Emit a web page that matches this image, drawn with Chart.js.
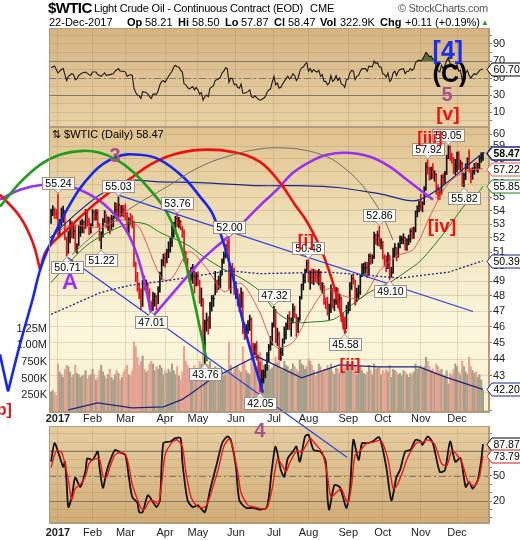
<!DOCTYPE html>
<html>
<head>
<meta charset="utf-8">
<script src="https://cdn.jsdelivr.net/npm/chart.js@4.4.0/dist/chart.umd.min.js"></script>
<style>
body { margin: 0; background: #fff; }
#wrap { position: relative; width: 520px; height: 540px; overflow: hidden; font-family: "Liberation Sans", Arial, sans-serif; }
canvas { position: absolute; left: 0; top: 0; }
.t { position: absolute; white-space: nowrap; color: #000; font-size: 11px; top: 16px; }
.b { font-weight: bold; }
</style>
</head>
<body>
<div id="wrap">
<canvas id="rsi" width="520" height="540"></canvas>
<canvas id="stoch" width="520" height="540"></canvas>
<canvas id="price" width="520" height="540"></canvas>
<div class="t b" style="left:48px;top:-1px;font-size:15px;letter-spacing:-0.6px">$WTIC</div>
<div class="t" style="left:94px;top:2px;letter-spacing:-0.2px">Light Crude Oil - Continuous Contract (EOD)</div>
<div class="t" style="left:310px;top:2px">CME</div>
<div class="t" style="left:398px;top:2px;color:#555;letter-spacing:-0.3px">© StockCharts.com</div>
<div class="t" style="left:49px">22-Dec-2017</div>
<div class="t b" style="left:127px">Op</div><div class="t" style="left:145px">58.21</div>
<div class="t b" style="left:178px">Hi</div><div class="t" style="left:192px">58.50</div>
<div class="t b" style="left:225px">Lo</div><div class="t" style="left:241px">57.87</div>
<div class="t b" style="left:274px">Cl</div><div class="t" style="left:288px">58.47</div>
<div class="t b" style="left:320px">Vol</div><div class="t" style="left:340px">322.9K</div>
<div class="t b" style="left:380px">Chg</div><div class="t" style="left:405px">+0.11 (+0.19%)</div>
<div class="t" style="left:481px;top:18px;font-size:8px;color:#2a9a2a">&#9650;</div>
<div class="t" style="left:52px;top:128px">&#8645; $WTIC (Daily) 58.47</div>
</div>
<script>
// month ticks (bar index of first trading day)
const monthLabels = ['2017', 'Feb', 'Mar', 'Apr', 'May', 'Jun', 'Jul', 'Aug', 'Sep', 'Oct', 'Nov', 'Dec'];
const monthStarts = [4, 24, 43, 66, 85, 107, 129, 149, 172, 192, 214, 235];

// daily bars, 27-Dec-2016 .. 22-Dec-2017
const highs = [
  54.12, 54.37, 54.21, 54.09,
  55.24, 53.36, 54.20, 54.33, 53.96, 52.08, 52.48, 53.34, 53.20, 53.11, 52.92, 51.59, 52.84, 53.25, 53.38, 53.25, 54.09, 53.89, 53.45, 53.04,
  54.09, 54.00, 54.07, 54.07, 53.05, 52.45, 53.40, 54.00, 53.72, 53.53, 53.50, 53.66, 53.60, 54.60, 54.55, 55.03, 54.38, 54.39, 54.37,
  54.50, 53.86, 53.48, 53.79, 53.63, 53.22, 50.29, 49.59, 48.88, 48.47, 49.05, 49.35, 49.08, 48.89, 48.47, 47.66, 48.25, 48.17, 48.06, 48.62, 49.61, 50.48, 50.85,
  50.95, 51.20, 51.73, 52.00, 52.94, 53.13, 53.58, 53.76, 53.50, 53.27, 52.83, 52.60, 51.05, 50.56, 49.73, 49.94, 50.14, 49.71, 49.57,
  49.63, 49.07, 48.54, 47.82, 46.44, 46.89, 46.65, 47.58, 48.03, 48.06, 49.66, 49.07, 49.34, 49.70, 50.52, 51.01, 51.51, 51.84, 52.00, 50.00, 50.21, 49.88,
  48.95, 48.48, 48.15, 48.54, 48.27, 46.27, 46.14, 46.40, 46.75, 46.58, 44.97, 44.95, 45.08, 44.25, 43.81, 43.33, 43.34, 43.67, 44.40, 44.90, 45.40, 46.25,
  47.32, 47.12, 45.92, 45.66, 44.71, 45.24, 46.00, 46.25, 46.76, 46.98, 46.57, 47.49, 47.34, 46.79, 46.60, 47.98, 48.79, 49.48, 49.81, 50.43,
  50.48, 49.70, 49.83, 49.80, 49.74, 49.72, 49.80, 49.66, 48.90, 48.73, 47.88, 47.92, 47.47, 48.75, 48.49, 47.79, 48.57, 48.52, 48.15, 47.93, 46.89, 46.63, 47.38,
  47.60, 48.89, 49.42, 49.42, 49.05, 48.52, 48.71, 49.41, 50.17, 50.22, 50.30, 50.28, 50.85, 50.89, 50.80, 52.43, 52.27, 52.50, 52.86, 51.96,
  51.76, 50.82, 50.74, 50.96, 50.74, 49.94, 51.27, 51.60, 51.30, 51.63, 52.15, 52.13, 52.30, 52.06, 51.96, 52.21, 52.66, 52.75, 52.79, 53.98, 54.36, 54.72,
  55.22, 54.67, 55.82, 57.69, 57.92, 57.34, 57.34, 57.61, 57.05, 56.82, 55.96, 55.63, 56.71, 56.82, 57.00, 58.29, 59.05, 59.04, 58.43, 58.12, 57.95,
  58.53, 58.58, 57.90, 57.72, 56.85, 57.61, 58.09, 58.72, 57.23, 57.29, 57.63, 57.71, 57.64, 58.22, 58.49, 58.50
];
const lows = [
  53.06, 53.62, 53.41, 53.41,
  52.11, 52.20, 52.90, 53.12, 51.85, 50.71, 50.91, 51.64, 52.00, 51.97, 51.01, 50.91, 51.46, 52.11, 52.36, 52.36, 52.69, 52.84, 52.22, 52.34,
  52.87, 53.27, 53.29, 52.80, 51.80, 51.22, 52.05, 53.12, 52.73, 52.55, 52.29, 52.61, 52.81, 53.43, 53.22, 53.50, 53.52, 53.58, 53.51,
  53.31, 52.46, 52.33, 52.93, 52.73, 49.98, 48.95, 48.31, 47.82, 47.09, 47.31, 48.39, 48.39, 47.82, 47.11, 47.01, 47.05, 47.33, 47.09, 47.48, 48.25, 49.11, 50.04,
  49.95, 50.24, 50.60, 50.98, 51.39, 52.06, 52.54, 52.82, 52.72, 52.59, 52.05, 50.31, 50.12, 49.46, 48.98, 49.04, 48.84, 48.18, 48.66,
  48.71, 47.52, 47.32, 45.18, 43.76, 45.72, 45.54, 45.90, 47.01, 47.31, 48.07, 48.24, 48.43, 48.56, 49.41, 50.21, 50.58, 51.05, 48.45, 48.18, 49.27, 48.10,
  47.82, 47.35, 46.96, 47.25, 45.56, 45.20, 45.27, 45.57, 45.76, 44.48, 44.22, 44.23, 43.92, 43.17, 42.05, 42.36, 42.57, 42.87, 43.33, 43.82, 44.53, 44.86,
  45.98, 45.00, 44.83, 43.96, 43.92, 44.21, 44.97, 45.23, 45.83, 45.82, 45.40, 46.23, 46.57, 45.40, 45.65, 46.40, 47.79, 48.40, 48.88, 49.56,
  48.92, 48.44, 48.82, 48.75, 48.95, 48.83, 48.72, 48.39, 48.20, 47.45, 47.16, 46.74, 46.46, 46.90, 47.20, 47.04, 47.45, 47.23, 47.11, 46.33, 45.87, 45.58, 45.88,
  46.86, 47.04, 48.43, 48.80, 47.40, 47.61, 47.79, 48.10, 49.30, 49.45, 49.53, 49.23, 49.42, 50.13, 50.21, 50.53, 51.55, 51.46, 51.41, 51.21,
  50.52, 50.00, 49.62, 49.85, 49.10, 49.25, 49.52, 50.62, 50.38, 50.64, 51.29, 51.59, 51.57, 51.13, 51.11, 51.51, 51.69, 51.93, 51.97, 52.43, 53.53, 53.90,
  54.00, 53.91, 54.45, 55.52, 56.77, 56.31, 56.40, 56.45, 56.23, 55.22, 54.84, 54.82, 55.21, 55.88, 56.06, 56.75, 58.01, 57.87, 57.65, 56.83, 56.75,
  56.95, 57.15, 57.08, 55.84, 55.82, 56.35, 57.21, 56.95, 56.11, 56.38, 56.77, 57.00, 56.91, 57.22, 57.71, 57.87
];
const closes = [
  53.90, 54.06, 53.77, 53.72,
  52.33, 53.26, 53.76, 53.99, 51.96, 50.82, 52.25, 53.01, 52.37, 52.48, 51.08, 51.37, 52.42, 52.75, 53.18, 52.75, 53.78, 53.17, 52.63, 52.81,
  53.88, 53.54, 53.83, 53.01, 52.17, 52.34, 53.00, 53.86, 52.93, 53.20, 53.11, 53.36, 53.40, 54.06, 53.59, 54.45, 53.99, 54.05, 54.01,
  53.83, 52.61, 53.33, 53.20, 53.14, 50.28, 49.28, 48.49, 48.40, 47.72, 48.86, 48.75, 48.78, 48.22, 47.34, 47.04, 47.70, 47.97, 47.73, 48.37, 49.51, 50.35, 50.60,
  50.24, 51.03, 51.15, 51.70, 52.24, 53.08, 53.40, 53.11, 53.18, 52.65, 52.41, 50.44, 50.27, 49.62, 49.23, 49.56, 49.62, 48.97, 49.33,
  48.84, 47.66, 47.82, 45.52, 46.22, 46.43, 45.88, 47.33, 47.83, 47.84, 48.85, 48.66, 49.07, 49.35, 50.33, 50.73, 51.47, 51.36, 48.90, 49.80, 49.66, 48.32,
  48.36, 47.66, 47.40, 48.19, 45.72, 45.64, 45.83, 46.08, 46.46, 44.73, 44.46, 44.74, 44.20, 43.23, 42.53, 42.74, 43.01, 43.38, 44.24, 44.74, 44.93, 46.04,
  47.07, 45.13, 45.52, 44.23, 44.40, 45.04, 45.49, 46.08, 46.54, 46.02, 46.40, 47.12, 46.79, 45.77, 46.34, 47.89, 48.75, 49.04, 49.71, 50.17,
  49.16, 49.59, 49.03, 49.58, 49.39, 49.17, 49.56, 48.59, 48.82, 47.59, 47.55, 46.78, 47.09, 48.51, 47.37, 47.64, 48.41, 47.43, 47.87, 46.57, 46.44, 45.96, 47.23,
  47.29, 48.66, 49.16, 49.09, 47.48, 48.07, 48.23, 49.30, 49.89, 49.89, 49.91, 49.48, 50.69, 50.55, 50.66, 52.22, 51.88, 52.14, 51.56, 51.67,
  50.58, 50.42, 49.98, 50.79, 49.29, 49.58, 50.92, 51.30, 50.60, 51.45, 51.87, 51.88, 52.04, 51.29, 51.84, 51.90, 52.47, 52.18, 52.64, 53.90, 54.15, 54.38,
  54.30, 54.54, 55.64, 57.35, 57.20, 56.81, 57.17, 56.74, 56.76, 55.70, 55.33, 55.14, 56.55, 56.09, 56.83, 58.02, 58.95, 58.11, 57.99, 57.30, 57.40,
  58.36, 57.47, 57.62, 55.96, 56.69, 57.36, 57.99, 57.14, 56.60, 57.04, 57.30, 57.16, 57.46, 58.09, 58.36, 58.47
];
// volume in thousands
const volumes = [
  300, 320, 280, 250,
  720, 600, 560, 520, 640, 700, 680, 600, 520, 560, 700, 580, 560, 520, 540, 560, 620, 500, 540, 560,
  640, 560, 480, 520, 620, 700, 600, 540, 500, 560, 640, 520, 480, 560, 620, 580, 480, 520, 600,
  640, 700, 560, 540, 620, 1050, 980, 820, 700, 760, 840, 640, 600, 620, 720, 760, 720, 620, 680, 640, 700, 660, 560,
  620, 580, 640, 600, 720, 620, 560, 680, 540, 480, 600, 980, 760, 700, 640, 600, 620, 700, 560,
  640, 760, 720, 1000, 1100, 720, 700, 760, 640, 560, 680, 600, 620, 580, 620, 540, 600, 620, 1050, 700, 580, 640,
  680, 700, 620, 600, 980, 760, 620, 580, 560, 900, 720, 660, 680, 860, 900, 800, 700, 620, 680, 700, 640, 660,
  720, 820, 740, 820, 640, 620, 760, 700, 680, 620, 640, 720, 680, 640, 600, 780, 720, 700, 640, 680,
  800, 760, 700, 620, 540, 600, 720, 680, 600, 640, 620, 700, 640, 720, 600, 560, 660, 640, 580, 640, 620, 680, 700,
  640, 720, 680, 620, 700, 560, 600, 680, 620, 580, 560, 600, 700, 620, 560, 720, 640, 660, 680, 560,
  620, 580, 640, 600, 700, 520, 640, 620, 600, 560, 580, 540, 620, 600, 560, 520, 580, 560, 600, 720, 640, 660,
  700, 640, 680, 820, 760, 680, 620, 640, 580, 720, 680, 620, 640, 560, 540, 620, 420, 580, 560, 640, 720,
  680, 600, 560, 760, 680, 600, 560, 820, 680, 620, 580, 600, 520, 560, 480, 323
];

// overlays: [bar index, price]
const ma20 = [[0, 52.0], [10, 52.9], [20, 52.85], [30, 52.78], [40, 53.32], [50, 52.9], [55, 51.7], [60, 50.15], [65, 49.09], [70, 49.19], [80, 51.02], [90, 49.87], [100, 48.29], [110, 48.85], [120, 47.11], [130, 44.75], [140, 45.03], [150, 47.0], [160, 48.46], [170, 47.97], [180, 47.88], [190, 49.67], [200, 50.71], [210, 51.23], [220, 53.75], [230, 56.08], [240, 57.02], [250, 57.22]];
const ma50 = [[0, 48.9], [10, 50.2], [20, 51.4], [30, 52.2], [46, 53.1], [55, 53.0], [63, 52.4], [79, 51.5], [88, 50.7], [100, 49.8], [110, 49.2], [121, 48.3], [130, 47.0], [140, 46.3], [150, 46.3], [164, 46.5], [175, 47.5], [185, 48.3], [196, 48.9], [205, 49.6], [214, 50.4], [229, 52.6], [240, 54.5], [247, 55.3], [250, 55.85]];
const ma200 = [[0, 46.8], [28, 48.2], [45, 48.7], [66, 49.0], [103, 49.7], [121, 49.5], [161, 49.6], [202, 49.2], [230, 49.6], [250, 50.39]];
const navyLine = [[-0.6, 52.0], [13.9, 53.7], [28.3, 55.2], [44.5, 56.27], [63, 56.18], [86.2, 56.12], [120.9, 55.89], [144.1, 55.89], [167.2, 55.73], [190.4, 55.26], [213.5, 54.82], [250, 58.47]];
const volLine = [[10, 41.02], [27, 41.42], [47, 41.13], [65, 41.19], [76, 41.62], [80, 41.88], [92, 42.75], [109, 43.65], [118, 44.13], [121, 44.07], [145, 42.87], [167, 43.65], [190, 43.53], [213, 43.53], [228, 42.93], [250, 42.20]];

// hand-drawn cycle arcs and trend lines
const greenArc = [[-29.6, 54.29], [-18.0, 56.12], [-6.4, 57.52], [5.1, 58.32], [18.5, 58.64], [28.3, 58.48], [38.1, 57.92], [47.4, 56.97], [57.2, 55.58], [67.1, 53.85], [75.8, 51.17], [83.3, 47.41], [90.2, 43.86]];
const blueTail = [[-29.6, 44.29], [-24.9, 42.08]];
const blueArc = [[-24.9, 42.08], [-18.0, 44.90], [-11.1, 47.61], [-4.7, 50.33], [9.2, 54.07], [24.2, 56.89], [38.1, 58.16], [51.5, 58.32], [63.0, 57.92], [76.3, 56.58], [86.2, 55.05], [93.7, 53.70], [102.4, 50.61], [112.2, 45.84], [122.6, 42.0]];
const redTail = [[-29.6, 55.20], [-18.0, 53.55], [-10.5, 51.66], [-6.4, 49.78]];
const redArc = [[-6.4, 49.78], [-2.4, 51.17], [9.2, 52.60], [28.3, 54.82], [47.4, 56.58], [57.2, 57.52], [70.5, 58.32], [86.2, 58.72], [105.3, 58.55], [120.9, 57.76], [132.5, 56.12], [141.2, 54.44], [148.1, 53.18], [156.8, 51.03], [164.3, 48.43], [170.5, 45.6]];
const purpleArcA = [[-29.6, 54.82], [-18.0, 55.58], [-4.7, 55.96], [9.2, 55.89], [22.5, 55.20], [34.1, 54.07], [43.9, 52.46], [49.7, 50.82], [54.4, 48.76], [58.4, 46.60]];
const purpleLeg = [[58.4, 46.60], [86.2, 50.33]];
const purpleArcB = [[86.2, 50.33], [93.7, 51.17], [105.3, 52.38], [120.9, 54.37], [130.8, 55.58], [140.0, 56.89], [149.9, 57.76], [159.7, 58.32], [171.3, 58.48], [184.6, 58.16], [196.2, 57.36], [206.0, 56.35], [213.5, 55.58], [221.1, 54.82]];
const grayArc = [[12.1, 50.82], [28.3, 52.60], [47.4, 54.29], [67.1, 55.81], [86.2, 57.36], [105.3, 58.32], [120.9, 58.79], [132.5, 58.88], [145.8, 58.72], [159.7, 58.16], [168.9, 57.36], [178.8, 56.12], [186.3, 54.82], [192.1, 53.55], [197.9, 51.86]];
const trendA = [[9.8, 50.61], [171.3, 38.43]];
const trendB = [[38.1, 55.20], [244.2, 46.98]];

// price call-outs: [bar index, value, 1 = below the bar]
const callouts = [[4, 55.24, 0], [39, 55.03, 0], [73, 53.76, 0], [103, 52.00, 0], [129, 47.32, 0], [149, 50.48, 0], [190, 52.86, 0], [218, 57.92, 0], [230, 59.05, 0],
  [9, 50.71, 1], [29, 51.22, 1], [58, 47.01, 1], [89, 43.76, 1], [121, 42.05, 1], [170, 45.58, 1], [196, 49.10, 1], [239, 55.82, 1]];
// wave labels: [text, bar index, price, colour, px size]
const waveLabels = [['3', 37, 58.15, '#a8508a', 20], ['A', 10.9, 48.87, '#9a33f5', 22], ['[i]', 147.5, 51.77, '#ee1111', 17], ['[ii]', 173, 43.64, '#ee1111', 17],
  ['[iii]', 219.3, 59.7, '#ee1111', 17], ['[iv]', 226.3, 52.8, '#ee1111', 19], ['[v]', 229.7, 61.6, '#ee1111', 19], ['5', 229.2, 63.25, '#a8508a', 20],
  ['[4]', 229.7, 67.2, '#1a2ef0', 25], ['(C)', 230.9, 65.1, '#000000', 25], ['4', 120.9, 39.8, '#a8508a', 20], ['[b]', -28.6, 41.0, '#ee1111', 16]];

// RSI(14) [bar index, value]
const rsi = [[0,62],[2,64],[4,56],[6,60],[7,61],[9,47],[10,52],[12,55],[13,54],[14,48],[15,49],[16,53],[18,56],[20,57],[22,54],[23,53],[24,57],[26,57],[27,54],[29,52],[31,56],[32,53],[34,54],[36,55],[37,58],[39,61],[40,58],[42,58],[43,57],[44,52],[46,54],[47,53],[48,38],[49,33],[50,30],[51,29],[52,26],[53,34],[55,33],[56,31],[57,28],[58,26],[59,31],[61,31],[62,35],[63,42],[64,46],[65,47],[66,45],[68,52],[70,58],[71,63],[72,65],[73,63],[74,63],[75,59],[76,57],[77,43],[78,42],[79,39],[80,37],[82,40],[83,36],[84,39],[85,36],[86,31],[87,33],[88,24],[89,28],[90,30],[91,28],[92,38],[94,41],[95,47],[97,49],[98,51],[99,56],[100,58],[101,62],[102,61],[103,45],[104,50],[105,49],[106,42],[107,43],[108,39],[109,38],[110,43],[111,32],[112,32],[114,34],[115,36],[116,28],[117,27],[118,29],[119,27],[120,25],[121,24],[122,25],[123,26],[124,28],[125,33],[126,36],[127,37],[128,45],[129,52],[130,42],[131,44],[132,38],[133,39],[134,43],[135,46],[136,49],[137,52],[138,49],[139,51],[140,55],[141,53],[142,47],[143,50],[144,58],[145,62],[146,63],[147,66],[148,68],[149,58],[150,61],[151,57],[152,60],[153,58],[154,57],[155,59],[156,52],[157,54],[158,46],[159,46],[160,42],[161,44],[162,53],[163,46],[164,48],[165,53],[166,47],[167,50],[168,43],[169,42],[170,39],[171,48],[172,49],[173,56],[174,59],[175,58],[176,48],[177,52],[178,53],[179,58],[180,61],[182,61],[183,58],[184,64],[186,63],[187,70],[188,67],[189,68],[190,63],[191,63],[192,55],[193,54],[194,51],[195,56],[196,46],[197,48],[198,56],[199,58],[200,53],[201,58],[202,60],[204,61],[205,55],[206,58],[207,58],[208,61],[209,59],[210,61],[211,68],[212,70],[213,71],[214,70],[215,72],[216,76],[217,80],[218,78],[219,75],[220,76],[221,72],[222,72],[223,62],[224,59],[225,57],[226,65],[227,61],[228,65],[229,71],[230,74],[231,67],[232,66],[233,61],[234,61],[235,66],[236,58],[237,59],[238,47],[239,52],[240,56],[241,59],[242,53],[243,50],[244,53],[245,55],[246,54],[247,56],[248,59],[249,60],[250,60.7]];

// Slow stochastics %K and %D
const stochK = [[0,67],[2,89],[5,73],[7,61],[8,67],[9,42],[10,13],[12,25],[14,48],[17,37],[20,57],[21,71],[24,69],[27,79],[28,61],[30,36],[32,54],[34,67],[37,81],[40,78],[43,75],[45,49],[47,25],[50,18],[51,7],[53,7],[56,27],[59,19],[61,13],[63,21],[65,89],[69,91],[72,95],[75,95],[76,67],[79,21],[82,13],[85,15],[89,7],[92,33],[96,65],[99,89],[102,97],[104,93],[107,61],[109,21],[113,12],[117,12],[121,10],[125,13],[128,61],[130,85],[133,57],[135,49],[137,71],[140,79],[142,85],[144,67],[147,97],[149,99],[152,81],[156,79],[159,67],[160,25],[161,10],[164,39],[167,37],[169,25],[171,12],[173,33],[175,93],[178,69],[180,89],[183,89],[186,91],[190,96],[194,61],[197,21],[200,49],[202,57],[205,79],[208,81],[211,93],[214,91],[215,87],[218,97],[221,89],[225,55],[228,57],[231,91],[234,67],[237,71],[240,37],[242,43],[244,35],[247,45],[249,69],[250,87.87]];
const stochD = [[0,60],[3,80],[6,78],[8,65],[10,45],[12,22],[14,35],[17,40],[20,50],[22,65],[25,70],[28,70],[30,50],[32,48],[34,60],[37,75],[40,78],[43,76],[45,62],[47,40],[50,22],[52,12],[54,10],[57,20],[60,20],[62,16],[64,40],[66,75],[70,90],[73,93],[76,85],[78,55],[81,25],[84,15],[87,12],[90,15],[93,32],[97,60],[100,85],[103,94],[105,85],[108,55],[110,30],[114,15],[118,13],[122,11],[125,12],[128,35],[131,70],[134,62],[136,55],[138,65],[141,77],[143,80],[145,78],[148,88],[150,95],[153,88],[157,78],[160,50],[162,25],[165,30],[168,35],[170,25],[172,18],[174,40],[176,75],[179,80],[182,88],[186,90],[191,92],[195,70],[198,35],[200,38],[203,52],[206,70],[209,82],[212,90],[215,90],[218,93],[222,88],[226,65],[229,62],[232,80],[235,75],[238,65],[241,45],[243,40],[245,38],[248,50],[250,73.79]];

const FONT = '"Liberation Sans", Arial, sans-serif';
Chart.defaults.font.family = FONT;
Chart.defaults.font.size = 11;
Chart.defaults.color = '#222';
Chart.defaults.animation = false;

const X_MIN = -1.2, X_MAX = 253.5;
const GRID = 'rgba(150,115,70,0.22)';
const pts = a => a.map(p => ({ x: p[0], y: p[1] }));
const last = a => a[a.length - 1][1];

function xScale(showLabels, height, pad) {
  return {
    type: 'linear', position: 'bottom', bounds: 'data', offset: false,
    afterDataLimits: s => { s.min = X_MIN; s.max = X_MAX; },
    afterBuildTicks: s => { s.ticks = monthStarts.map(v => ({ value: v })); },
    afterFit: s => { s.height = height; },
    grid: { color: GRID, drawTicks: false, offset: false },
    border: { color: '#b39a7c' },
    ticks: {
      display: showLabels, autoSkip: false, maxRotation: 0, padding: pad,
      callback: (v, i) => monthLabels[i],
      font: c => ({ family: FONT, size: 11, weight: c.index === 0 ? 'bold' : 'normal' })
    }
  };
}

function panel(stops) {
  return {
    id: 'panel',
    beforeDraw(chart) {
      const { ctx, chartArea: a } = chart;
      const g = ctx.createLinearGradient(0, a.top, 0, a.bottom);
      stops.forEach(s => g.addColorStop(s[0], s[1]));
      ctx.save();
      ctx.fillStyle = g;
      ctx.fillRect(a.left, a.top, a.right - a.left, a.bottom - a.top);
      ctx.restore();
    },
    afterDatasetsDraw(chart) {
      const { ctx, chartArea: a } = chart;
      ctx.save();
      ctx.strokeStyle = '#b39a7c';
      ctx.lineWidth = 1;
      ctx.strokeRect(a.left + 0.5, a.top + 0.5, a.right - a.left - 1, a.bottom - a.top - 1);
      ctx.restore();
    }
  };
}

function refLines(values) {
  return {
    id: 'refLines',
    beforeDatasetsDraw(chart) {
      const { ctx, chartArea: a, scales } = chart;
      ctx.save();
      ctx.strokeStyle = '#857766';
      ctx.lineWidth = 1;
      values.forEach(v => {
        const y = Math.round(scales.y.getPixelForValue(v[0])) + 0.5;
        ctx.setLineDash(v[1] ? [7, 3, 2, 3] : []);
        ctx.beginPath(); ctx.moveTo(a.left, y); ctx.lineTo(a.right, y); ctx.stroke();
      });
      ctx.restore();
    }
  };
}

function tag(ctx, x, y, text, color, bold) {
  ctx.save();
  ctx.font = (bold ? 'bold ' : '') + '10.5px ' + FONT;
  const w = ctx.measureText(text).width + 3, h = 13;
  x = x - 2;
  y = Math.round(y) + 0.5;
  ctx.beginPath();
  ctx.moveTo(x, y);
  ctx.lineTo(x + 5, y - h / 2);
  ctx.lineTo(x + 5 + w, y - h / 2);
  ctx.lineTo(x + 5 + w, y + h / 2);
  ctx.lineTo(x + 5, y + h / 2);
  ctx.closePath();
  ctx.fillStyle = '#fff';
  ctx.fill();
  ctx.strokeStyle = color;
  ctx.lineWidth = bold ? 1.5 : 1;
  ctx.stroke();
  ctx.fillStyle = '#000';
  ctx.textBaseline = 'middle';
  ctx.fillText(text, x + 6.5, y + 0.5);
  ctx.restore();
}

function pin(ctx, x, y, text, below) {
  ctx.save();
  ctx.font = '10.5px ' + FONT;
  const w = Math.round(ctx.measureText(text).width) + 6, h = 12;
  const bx = Math.round(x - w / 2) + 0.5;
  const by = below ? Math.round(y + 5) + 0.5 : Math.round(y - 5 - h) + 0.5;
  ctx.fillStyle = '#fcfcfa';
  ctx.strokeStyle = '#9c9088';
  ctx.lineWidth = 1;
  ctx.fillRect(bx, by, w, h);
  ctx.strokeRect(bx, by, w, h);
  ctx.beginPath();
  if (below) { ctx.moveTo(x - 4, by); ctx.lineTo(x, y + 1); ctx.lineTo(x + 4, by); }
  else { ctx.moveTo(x - 4, by + h); ctx.lineTo(x, y - 1); ctx.lineTo(x + 4, by + h); }
  ctx.fill();
  ctx.stroke();
  ctx.fillStyle = '#000';
  ctx.textAlign = 'center';
  ctx.textBaseline = 'middle';
  ctx.fillText(text, bx + w / 2, by + h / 2 + 0.5);
  ctx.restore();
}

const rightAxis = (min, max, ticks, labelled) => ({
  position: 'right', bounds: 'data',
  afterDataLimits: s => { s.min = min; s.max = max; },
  afterBuildTicks: s => { s.ticks = ticks.map(v => ({ value: v })); },
  afterFit: s => { s.width = 31; },
  grid: { color: GRID, tickLength: 3, tickColor: '#777' },
  border: { color: '#b39a7c' },
  ticks: { padding: 1, autoSkip: false, callback: v => labelled.includes(v) ? String(v) : '' }
});

const common = { responsive: false, devicePixelRatio: 1, animation: false, events: [],
  plugins: { legend: { display: false }, tooltip: { enabled: false } } };

const tens = [0, 10, 20, 30, 40, 50, 60, 70, 80, 90, 100];

// ---- RSI panel
new Chart(document.getElementById('rsi'), {
  type: 'line',
  data: { datasets: [{
    data: pts(rsi), borderColor: '#1a1a1a', borderWidth: 1.1, pointRadius: 0, tension: 0,
    fill: { target: { value: 70 }, above: 'rgba(70,100,40,0.85)', below: 'rgba(0,0,0,0)' }
  }] },
  options: Object.assign({}, common, {
    layout: { padding: { left: 49, top: 28 } },
    scales: { x: xScale(false, 413, 0), y: rightAxis(-7.6, 108.8, tens, [10, 30, 50, 70, 90]) }
  }),
  plugins: [panel([[0, '#d5b482'], [1, '#e8d2a6']]), refLines([[70, 0], [30, 0], [50, 1]]), {
    id: 'rsiTag', afterDraw(c) { tag(c.ctx, c.chartArea.right, c.scales.y.getPixelForValue(last(rsi)), last(rsi).toFixed(2), '#000'); }
  }]
});

// ---- Stochastics panel
new Chart(document.getElementById('stoch'), {
  type: 'line',
  data: { datasets: [
    { data: pts(stochD), borderColor: '#f01818', borderWidth: 1.4, pointRadius: 0, tension: 0.25 },
    { data: pts(stochK), borderColor: '#111', borderWidth: 1.8, pointRadius: 0, tension: 0.25 }
  ] },
  options: Object.assign({}, common, {
    layout: { padding: { left: 49, top: 426 } },
    scales: { x: xScale(true, 17, 3), y: rightAxis(-6, 109.5, tens, [20, 50, 80]) }
  }),
  plugins: [panel([[0, '#e6cea2'], [1, '#d1ad77']]), refLines([[80, 0], [20, 0], [50, 1]]), {
    id: 'stTags', afterDraw(c) {
      const y = c.scales.y;
      tag(c.ctx, c.chartArea.right, y.getPixelForValue(last(stochK)), last(stochK).toFixed(2), '#000');
      tag(c.ctx, c.chartArea.right, y.getPixelForValue(last(stochD)), last(stochD).toFixed(2), '#e01010');
    }
  }]
});

// ---- Price panel
const up = closes.map((c, i) => i === 0 || c >= closes[i - 1]);
function line(arr, color, width, extra) {
  return Object.assign({ type: 'line', yAxisID: 'y', data: pts(arr), borderColor: color, borderWidth: width,
    pointRadius: 0, tension: 0, fill: false, order: 3 }, extra || {});
}
const arc = (arr, color, width) => line(arr, color, width, { tension: 0.4, clip: false, order: 2 });
const priceTicks = [41, 42, 43, 44, 45, 46, 47, 48, 49, 50, 51, 52, 53, 54, 55, 56, 57, 58, 59, 60];

new Chart(document.getElementById('price'), {
  type: 'line',
  data: { datasets: [
    { type: 'bar', label: 'Volume', yAxisID: 'yVol', data: volumes.map((v, i) => ({ x: i, y: v * 1000 })),
      backgroundColor: up.map(u => u ? '#a5a08a' : '#e8a190'), barThickness: 1.4, grouped: false, order: 10 },
    { type: 'bar', label: 'OHLC', yAxisID: 'y', data: highs.map((h, i) => ({ x: i, y: [lows[i], h] })),
      backgroundColor: up.map(u => u ? '#111' : '#e0141e'), barThickness: 1, grouped: false, order: 8 },
    line(volLine, '#1c2580', 1.2),
    line(ma200, '#1c2580', 1.3, { borderDash: [2, 2] }),
    line(navyLine, '#1c2a8c', 1.2, { tension: 0.3 }),
    line(ma50, '#1f7d1f', 1, { tension: 0.3 }),
    line(ma20, '#e05858', 1, { tension: 0.3 }),
    arc(grayArc, '#6e6e6e', 1),
    arc(greenArc, '#1b9e1b', 2.6),
    line(blueTail, '#1428f0', 2.6, { clip: false, order: 2 }),
    arc(blueArc, '#1428f0', 2.6),
    arc(redTail, '#ee1010', 2.6),
    arc(redArc, '#ee1010', 2.6),
    arc(purpleArcA, '#9a30f2', 2.6),
    line(purpleLeg, '#9a30f2', 2.6, { clip: false, order: 2 }),
    arc(purpleArcB, '#9a30f2', 2.6),
    line(trendA, '#2840e8', 1.2, { clip: false, order: 1 }),
    line(trendB, '#2840e8', 1.2, { clip: false, order: 1 })
  ] },
  options: Object.assign({}, common, {
    layout: { padding: { top: 127 } },
    scales: {
      x: xScale(true, 128, 0),
      y: Object.assign(rightAxis(40.9, 60.6, priceTicks, priceTicks.slice(2)), { type: 'logarithmic' }),
      yVol: {
        position: 'left', min: 0, max: 4270000,
        afterBuildTicks: s => { s.ticks = [250000, 500000, 750000, 1000000, 1250000].map(v => ({ value: v })); },
        afterFit: s => { s.width = 49; },
        grid: { drawOnChartArea: false, drawTicks: false },
        border: { display: false },
        ticks: { padding: 2, autoSkip: false, callback: v => v >= 1e6 ? (v / 1e6).toFixed(2) + 'M' : (v / 1000) + 'K' }
      }
    }
  }),
  plugins: [panel([[0, '#dfc18d'], [0.35, '#f0e2bb'], [0.7, '#fbf6dc'], [1, '#f7efd0']]), {
    id: 'closeTicks',
    afterDatasetDraw(c, args) {
      if (c.data.datasets[args.index].label !== 'OHLC') return;
      const { ctx, scales } = c;
      ctx.save();
      closes.forEach((v, i) => {
        ctx.fillStyle = up[i] ? '#111' : '#e0141e';
        ctx.fillRect(scales.x.getPixelForValue(i), scales.y.getPixelForValue(v) - 0.5, 1.6, 1);
      });
      ctx.restore();
    }
  }, {
    id: 'notes',
    afterDraw(c) {
      const { ctx, scales, chartArea: a } = c;
      const X = v => scales.x.getPixelForValue(v), Y = v => scales.y.getPixelForValue(v);
      callouts.forEach(p => pin(ctx, X(p[0]), Y(p[1]), p[1].toFixed(2), p[2]));
      waveLabels.forEach(l => {
        ctx.save();
        ctx.font = 'bold ' + l[4] + 'px ' + FONT;
        ctx.fillStyle = l[3];
        ctx.textAlign = 'center';
        ctx.textBaseline = 'middle';
        ctx.fillText(l[0], X(l[1]), Y(l[2]));
        ctx.restore();
      });
      tag(ctx, a.right, Y(last(volLine)), last(volLine).toFixed(2), '#1c2580');
      tag(ctx, a.right, Y(last(ma200)), last(ma200).toFixed(2), '#1c2580');
      tag(ctx, a.right, Y(last(ma50)), last(ma50).toFixed(2), '#1f7d1f');
      tag(ctx, a.right, Y(last(ma20)), last(ma20).toFixed(2), '#e05858');
      tag(ctx, a.right, Y(closes[closes.length - 1]), closes[closes.length - 1].toFixed(2), '#1c2580', true);
    }
  }]
});
</script>
</body>
</html>
